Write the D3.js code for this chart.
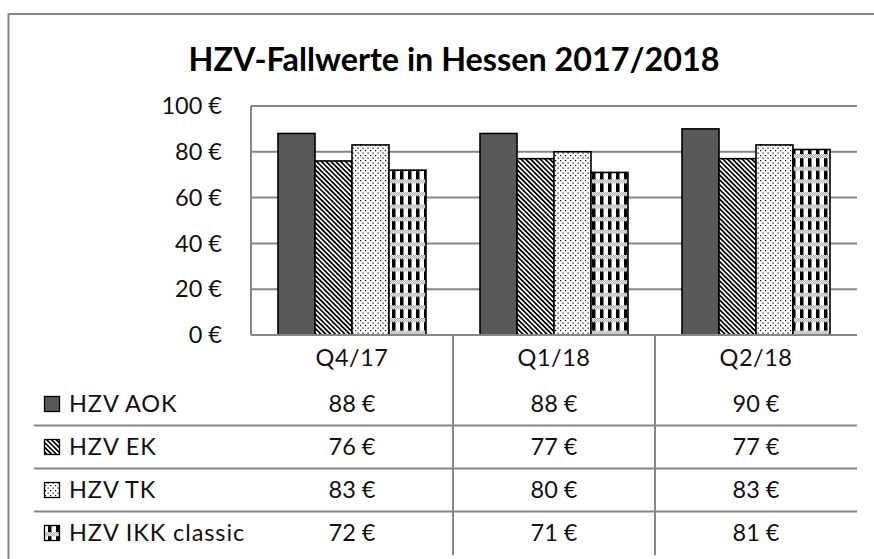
<!DOCTYPE html>
<html><head><meta charset="utf-8">
<script src="https://cdn.jsdelivr.net/npm/d3@7"></script>
<style>
html,body{margin:0;padding:0;background:#fff;}
svg{display:block;font-family:Lato,"Open Sans",sans-serif;}
</style></head>
<body>
<svg id="chart" width="874" height="559"></svg>
<script>
const title = "HZV-Fallwerte in Hessen 2017/2018";
const categories = ["Q4/17", "Q1/18", "Q2/18"];
const seriesNames = ["HZV AOK", "HZV EK", "HZV TK", "HZV IKK classic"];
const aok = [88, 88, 90];
const ek = [76, 77, 77];
const tk = [83, 80, 83];
const ikk = [72, 71, 81];
const yTicks = [0, 20, 40, 60, 80, 100];
const seriesValues = [aok, ek, tk, ikk];

const svg = d3.select("#chart");
const defs = svg.append("defs");

// patterns
const pEK = defs.append("pattern").attr("id","pEK").attr("patternUnits","userSpaceOnUse")
  .attr("width",3.4).attr("height",3.4).attr("patternTransform","rotate(-45)");
pEK.append("rect").attr("width",3.4).attr("height",3.4).attr("fill","#fff");
pEK.append("rect").attr("width",1.7).attr("height",3.4).attr("fill","#000");

const pTK = defs.append("pattern").attr("id","pTK").attr("patternUnits","userSpaceOnUse")
  .attr("width",5).attr("height",5);
pTK.append("rect").attr("width",5).attr("height",5).attr("fill","#fff");
pTK.append("rect").attr("x",0).attr("y",0).attr("width",1.2).attr("height",1.2).attr("fill","#000");
pTK.append("rect").attr("x",2.5).attr("y",2.5).attr("width",1.2).attr("height",1.2).attr("fill","#000");

const pIKK = defs.append("pattern").attr("id","pIKK").attr("patternUnits","userSpaceOnUse")
  .attr("width",8).attr("height",12.6);
pIKK.append("rect").attr("width",8).attr("height",12.6).attr("fill","#fff");
pIKK.append("rect").attr("x",0).attr("width",3.5).attr("height",12.6).attr("fill","#000");
pIKK.append("rect").attr("y",3).attr("width",8).attr("height",4).attr("fill","#9a9a9a");
for (let i = 0; i < 8; i++) {
  pIKK.append("rect").attr("x",i).attr("y",3 + (i%2)).attr("width",1).attr("height",1).attr("fill","#fff");
  pIKK.append("rect").attr("x",i).attr("y",5 + (i%2)).attr("width",1).attr("height",1).attr("fill","#fff");
}

const fills = ["#595959", "url(#pEK)", "url(#pTK)", "url(#pIKK)"];
const gridColor = "#868686";
const textColor = "#111";
const fs = 23.5;
const ls = "0.5px";

// outer border
svg.append("path").attr("d","M8.5,570V14H880").attr("fill","none")
  .attr("stroke",gridColor).attr("stroke-width",2);

// title
svg.append("text").attr("x",454).attr("y",71).attr("text-anchor","middle")
  .attr("font-weight","bold").attr("font-size",32.3).attr("fill","#000").text(title);

// scales
const plotL = 251, plotR = 857, plotB = 335, plotT = 106;
const y = d3.scaleLinear().domain([0,100]).range([plotB, plotT]);
const x = d3.scaleBand().domain(categories).range([plotL, plotR]).padding(0);
const xs = d3.scaleBand().domain(seriesNames).range([0, x.bandwidth()]).paddingInner(0).paddingOuter(0.73);

// gridlines
svg.append("g").selectAll("line").data(yTicks.filter(t=>t>0)).join("line")
  .attr("x1",plotL).attr("x2",plotR).attr("y1",d=>y(d)).attr("y2",d=>y(d))
  .attr("stroke",gridColor).attr("stroke-width",2);

// y labels
svg.append("g").selectAll("text").data(yTicks).join("text")
  .attr("x",222).attr("y",d=>y(d)).attr("dy","0.35em").attr("text-anchor","end")
  .attr("font-size",fs).attr("fill",textColor).text(d=>d+" €");

// bars
const bars = svg.append("g");
seriesNames.forEach((s,si)=>{
  bars.append("g").selectAll("rect").data(categories).join("rect")
    .attr("x",(c)=>x(c)+xs(s)).attr("width",xs.bandwidth())
    .attr("y",(c,ci)=>y(seriesValues[si][ci]))
    .attr("height",(c,ci)=>y(0)-y(seriesValues[si][ci]))
    .attr("fill",fills[si]).attr("stroke","#000").attr("stroke-width",1.6);
});

// axis lines
svg.append("line").attr("x1",plotL).attr("x2",plotL).attr("y1",plotT).attr("y2",plotB)
  .attr("stroke",gridColor).attr("stroke-width",2);
svg.append("line").attr("x1",plotL).attr("x2",plotR).attr("y1",plotB).attr("y2",plotB)
  .attr("stroke",gridColor).attr("stroke-width",2);

// data table
const headerY = 358;
const rowH = 43;
const rowCenters = seriesNames.map((s,i)=>404 + i*rowH);
const tableBottom = 555;

svg.append("g").selectAll("text").data(categories).join("text")
  .attr("x",c=>x(c)+x.bandwidth()/2).attr("y",headerY).attr("dy","0.35em")
  .attr("text-anchor","middle").attr("font-size",fs).attr("letter-spacing",ls)
  .attr("fill",textColor).text(c=>c);

// vertical separators
svg.append("g").selectAll("line").data(categories.slice(1)).join("line")
  .attr("x1",c=>x(c)).attr("x2",c=>x(c)).attr("y1",plotB).attr("y2",tableBottom)
  .attr("stroke",gridColor).attr("stroke-width",2);

// horizontal row separators
svg.append("g").selectAll("line").data(seriesNames.slice(1)).join("line")
  .attr("x1",34).attr("x2",plotR)
  .attr("y1",(s,i)=>rowCenters[i]+rowH/2).attr("y2",(s,i)=>rowCenters[i]+rowH/2)
  .attr("stroke",gridColor).attr("stroke-width",2);

seriesNames.forEach((s,si)=>{
  const cy = rowCenters[si];
  svg.append("rect").attr("x",44.5).attr("y",cy-7.5).attr("width",15).attr("height",15)
    .attr("fill",fills[si]).attr("stroke","#000").attr("stroke-width",1.3);
  svg.append("text").attr("x",69).attr("y",cy).attr("dy","0.35em")
    .attr("font-size",fs).attr("letter-spacing","0.9px").attr("fill",textColor).text(s);
  svg.append("g").selectAll("text").data(categories).join("text")
    .attr("x",c=>x(c)+x.bandwidth()/2).attr("y",cy).attr("dy","0.35em")
    .attr("text-anchor","middle").attr("font-size",fs).attr("fill",textColor)
    .text((c,ci)=>seriesValues[si][ci]+" €");
});
</script>
</body></html>
